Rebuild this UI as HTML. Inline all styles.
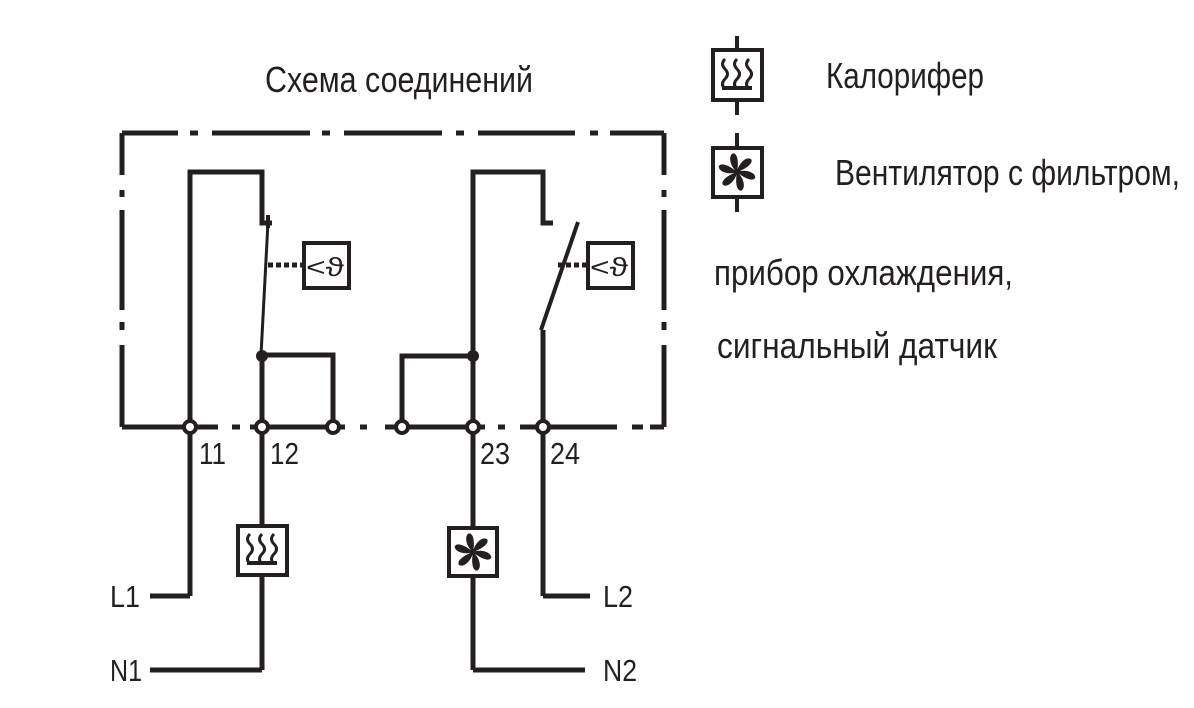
<!DOCTYPE html>
<html><head><meta charset="utf-8"><style>html,body{margin:0;padding:0;background:#fff}svg{display:block}</style></head>
<body>
<svg width="1194" height="708" viewBox="0 0 1194 708" xmlns="http://www.w3.org/2000/svg" font-family="Liberation Sans, sans-serif" fill="#231f20">
<defs>
<g id="heat">
<path d="M-12,-16 q-5,5 0,10 q5,5 0,10 q-5,5 0,10 M0,-16 q-5,5 0,10 q5,5 0,10 q-5,5 0,10 M12,-16 q-5,5 0,10 q5,5 0,10 q-5,5 0,10" fill="none" stroke="#231f20" stroke-width="3"/>
<rect x="-15" y="11" width="30" height="4"/>
</g>
<g id="fan">
<g id="blade"><path d="M0,0 C1,-8 9,-16 14,-13 C17,-9 9,-3 0,0Z"/></g>
<use href="#blade" transform="rotate(60)"/><use href="#blade" transform="rotate(120)"/><use href="#blade" transform="rotate(180)"/><use href="#blade" transform="rotate(240)"/><use href="#blade" transform="rotate(300)"/>
<circle r="3"/>
</g>
</defs>
<g stroke="#231f20" stroke-width="5" fill="none">
<path d="M122,133H178 M190,133H198 M212,133H310 M322,133H330 M344,133H442 M456,133H464 M478,133H575 M590,133H598 M610,133H664"/>
<path d="M122,133V175 M122,190V197 M122,210V310 M122,322V330 M122,345V427"/>
<path d="M664,133V175 M664,190V197 M664,210V310 M664,322V330 M664,345V427"/>
<path d="M122,427H190 M190,427H218 M232,427H240 M250,427H333 M333,427H345 M360,427H367 M385,427H473 M473,427H485 M498,427H505 M520,427H617 M632,427H643 M650,427H664"/>
<path d="M190,596V172H262V223H272"/>
<path d="M268,215V228" stroke-width="4"/>
<path d="M262,670V355H333V427"/>
<path d="M473,670V172H543V223H553"/>
<path d="M402,427V356H473"/>
<path d="M543,596V330"/>
<path d="M541,330L578,222" stroke-width="4"/>
<path d="M150,596H190 M150,670H262 M473,670H585 M543,596H590"/>
<path d="M737,36V115 M737,133V212" stroke-width="4"/>
</g>
<path d="M268,222L261,355" stroke="#231f20" stroke-width="3"/>
<g stroke="#231f20" stroke-width="5" stroke-dasharray="5,3" fill="none">
<path d="M268,265H304 M558,265H588"/>
</g>
<circle cx="262" cy="356" r="6"/><circle cx="473" cy="356" r="6"/>
<g fill="#fff" stroke="#231f20" stroke-width="4">
<circle cx="190" cy="427" r="6"/><circle cx="262" cy="427" r="6"/><circle cx="333" cy="427" r="6"/>
<circle cx="402" cy="427" r="6"/><circle cx="473" cy="427" r="6"/><circle cx="543" cy="427" r="6"/>
<rect x="304" y="243" width="45" height="45"/><rect x="588" y="243" width="45" height="45"/>
<rect x="238" y="526" width="49" height="49"/><rect x="449" y="528" width="48" height="48"/>
<rect x="713" y="50" width="49" height="50"/><rect x="713" y="148" width="49" height="49"/>
</g>
<use href="#heat" x="262" y="550"/><use href="#heat" x="737" y="75"/>
<use href="#fan" x="473" y="552"/><use href="#fan" x="737" y="172"/>
<g font-size="26">
<text x="306" y="276" textLength="38" lengthAdjust="spacingAndGlyphs">&lt;ϑ</text>
<text x="590" y="276" textLength="38" lengthAdjust="spacingAndGlyphs">&lt;ϑ</text>
</g>
<g font-size="31">
<text x="199" y="464" textLength="27" lengthAdjust="spacingAndGlyphs">11</text>
<text x="270" y="464" textLength="29" lengthAdjust="spacingAndGlyphs">12</text>
<text x="480" y="464" textLength="30" lengthAdjust="spacingAndGlyphs">23</text>
<text x="550" y="464" textLength="30" lengthAdjust="spacingAndGlyphs">24</text>
<text x="110" y="607" textLength="30" lengthAdjust="spacingAndGlyphs">L1</text>
<text x="110" y="681" textLength="32" lengthAdjust="spacingAndGlyphs">N1</text>
<text x="603" y="607" textLength="30" lengthAdjust="spacingAndGlyphs">L2</text>
<text x="603" y="681" textLength="34" lengthAdjust="spacingAndGlyphs">N2</text>
</g>
<g font-size="36">
<text x="265" y="92" textLength="268" lengthAdjust="spacingAndGlyphs">Схема соединений</text>
<text x="826" y="88" textLength="158" lengthAdjust="spacingAndGlyphs">Калорифер</text>
<text x="835" y="185" textLength="345" lengthAdjust="spacingAndGlyphs">Вентилятор с фильтром,</text>
<text x="714" y="285" textLength="299" lengthAdjust="spacingAndGlyphs">прибор охлаждения,</text>
<text x="717" y="358" textLength="280" lengthAdjust="spacingAndGlyphs">сигнальный датчик</text>
</g>
</svg>
</body></html>
